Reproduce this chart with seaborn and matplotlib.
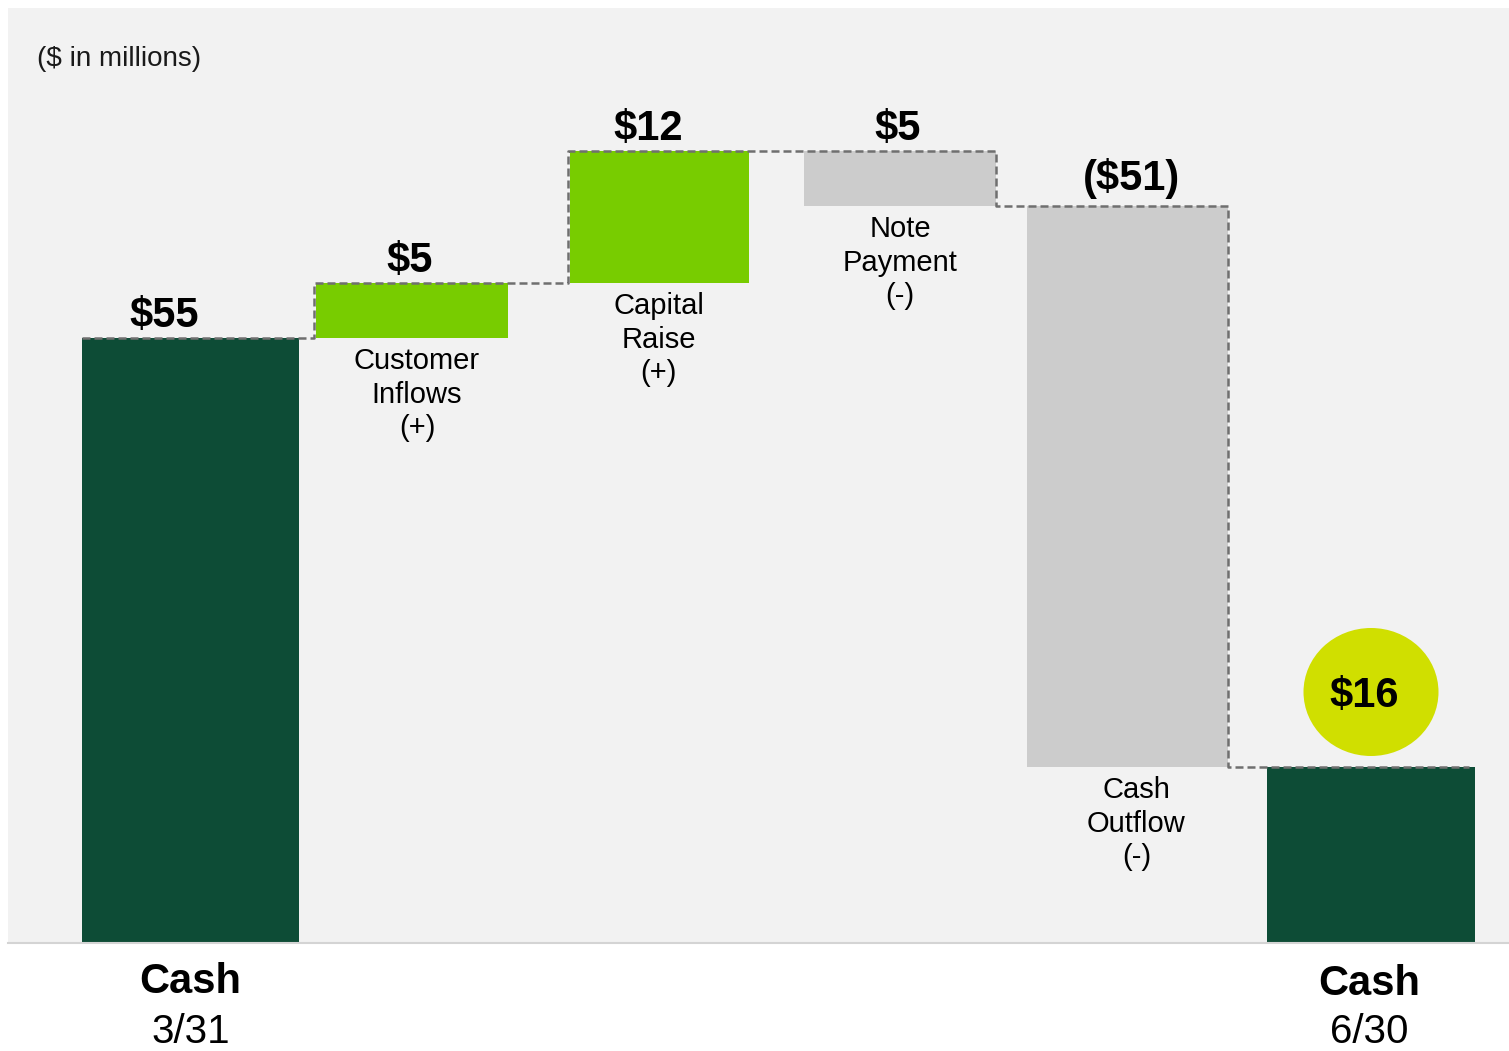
import numpy as np
import pandas as pd
import matplotlib
matplotlib.use("Agg")
import matplotlib.pyplot as plt
from matplotlib.patches import Ellipse
import seaborn as sns

# ---- data -------------------------------------------------------------
steps = ["Cash 3/31", "Customer Inflows", "Capital Raise", "Note Payment",
         "Cash Outflow", "Cash 6/30"]
amounts = [55, 5, 12, -5, -51, 16]          # $ in millions
kinds = ["total", "delta", "delta", "delta", "delta", "total"]
value_labels = ["$55", "$5", "$12", "$5", "($51)", "$16"]
step_labels = ["", "Customer\nInflows\n(+)", "Capital\nRaise\n(+)",
               "Note\nPayment\n(-)", "Cash\nOutflow\n(-)", ""]
total_titles = ["Cash", "", "", "", "", "Cash"]
total_dates = ["3/31", "", "", "", "", "6/30"]

# ---- layout (x in pixel-like units across the panel) -------------------
bar_left = [74, 308, 562, 796, 1019, 1259]
bar_width = [217, 192, 179, 192, 201, 208]
label_dx = [-26, -2, -11, -2, 4, 0]
caption_dx = [0, 5, -1, 0, 9, -2]
title_dy = [0, 0, 0, 0, 0, -2]
date_dy = [0, 0, 0, 0, 0, 0]

DARK = "#0d4c36"
LIGHT = "#78cc00"
GREY = "#cccccc"
YELLOW = "#d0df00"
PANEL = "#f2f2f2"

sns.set_theme(style="white")
plt.rcParams["font.family"] = ["Liberation Sans", "DejaVu Sans"]
plt.rcParams["lines.dashed_pattern"] = [3.2, 1.6]

W, H = 1509, 1051
fig = plt.figure(figsize=(W / 100, H / 100), dpi=100)
fig.patch.set_facecolor("white")
ax_left, ax_bottom, ax_w, ax_h = 8, 108, 1501, 935
ax = fig.add_axes([ax_left / W, ax_bottom / H, ax_w / W, ax_h / H])
ax.set_facecolor(PANEL)

YMAX = 85
px_per_unit = ax_h / YMAX

# running totals -> bar bottoms / heights
bottoms, heights, colors = [], [], []
running = 0
for amt, kind in zip(amounts, kinds):
    if kind == "total":
        bottoms.append(0)
        heights.append(amt)
        running = amt
        colors.append(DARK)
    else:
        new = running + amt
        bottoms.append(min(running, new))
        heights.append(abs(amt))
        colors.append(LIGHT if amt > 0 else GREY)
        running = new

centers = [l + w / 2 for l, w in zip(bar_left, bar_width)]
df = pd.DataFrame({"step": steps, "center": centers, "width": bar_width,
                   "bottom": bottoms, "height": heights, "color": colors})

for _, r in df.iterrows():
    sns.barplot(x=[r["center"]], y=[r["height"]], bottom=r["bottom"],
                width=r["width"], native_scale=True, color=r["color"],
                saturation=1, linewidth=0, errorbar=None, ax=ax, zorder=2)

# dashed running-total connector
levels = [amounts[0]]
edges = [bar_left[0]]
running = amounts[0]
for i in range(1, len(amounts) - 1):
    new = running + amounts[i]
    if amounts[i] > 0:
        edges.append(bar_left[i] - 2)
    else:
        edges.append(bar_left[i] + bar_width[i])
    levels.append(new)
    running = new
edges.append(bar_left[-1] + bar_width[-1] - 6)
levels.append(levels[-1])
sns.lineplot(x=edges, y=levels, drawstyle="steps-post", color="#6f6f6f",
             linewidth=1.8, linestyle="--", sort=False, estimator=None,
             ax=ax, zorder=3)

ax.set_xlim(0, ax_w)
ax.set_ylim(0, YMAX)
ax.set_xticks([])
ax.set_yticks([])
ax.set_xlabel("")
ax.set_ylabel("")
for s in ["left", "right", "top"]:
    ax.spines[s].set_visible(False)
ax.spines["bottom"].set_color("#d4d4d4")
ax.spines["bottom"].set_linewidth(1.5)

# value labels and step captions
for i, (amt, kind) in enumerate(zip(amounts, kinds)):
    top = bottoms[i] + heights[i]
    if kind == "total" and i == len(amounts) - 1:
        # highlighted closing balance
        cy = top + 75 / px_per_unit
        ax.add_patch(Ellipse((centers[i], cy), 135, 128 / px_per_unit,
                             facecolor=YELLOW, edgecolor="none", zorder=4))
        ax.text(centers[i] - 7, cy, value_labels[i], ha="center",
                va="center_baseline", fontsize=30, fontweight="bold",
                color="black", zorder=5)
    else:
        off = 16 if amt < -20 else 11
        ax.annotate(value_labels[i], xy=(centers[i] + label_dx[i], top),
                    xytext=(0, off), textcoords="offset pixels",
                    ha="center", va="baseline", fontsize=30,
                    fontweight="bold", color="black", zorder=5)
    if step_labels[i]:
        ax.annotate(step_labels[i], xy=(centers[i] + caption_dx[i], bottoms[i]),
                    xytext=(0, -9), textcoords="offset pixels",
                    ha="center", va="top", fontsize=21, color="black",
                    linespacing=1.26)
    if total_titles[i]:
        ax.annotate(total_titles[i], xy=(centers[i] + caption_dx[i], 0),
                    xycoords=("data", "axes fraction"),
                    xytext=(0, -39 + title_dy[i]), textcoords="offset pixels",
                    ha="center", va="center", fontsize=30,
                    fontweight="bold", color="black", annotation_clip=False)
        ax.annotate(total_dates[i], xy=(centers[i] + caption_dx[i], 0),
                    xycoords=("data", "axes fraction"),
                    xytext=(0, -89 + date_dy[i]), textcoords="offset pixels",
                    ha="center", va="center", fontsize=29,
                    color="black", annotation_clip=False)

fig.text(37 / W, 1 - 59 / H, "($ in millions)", ha="left", va="center",
         fontsize=20, color="#1a1a1a")

fig.savefig("out.png", dpi=100, facecolor="white")
